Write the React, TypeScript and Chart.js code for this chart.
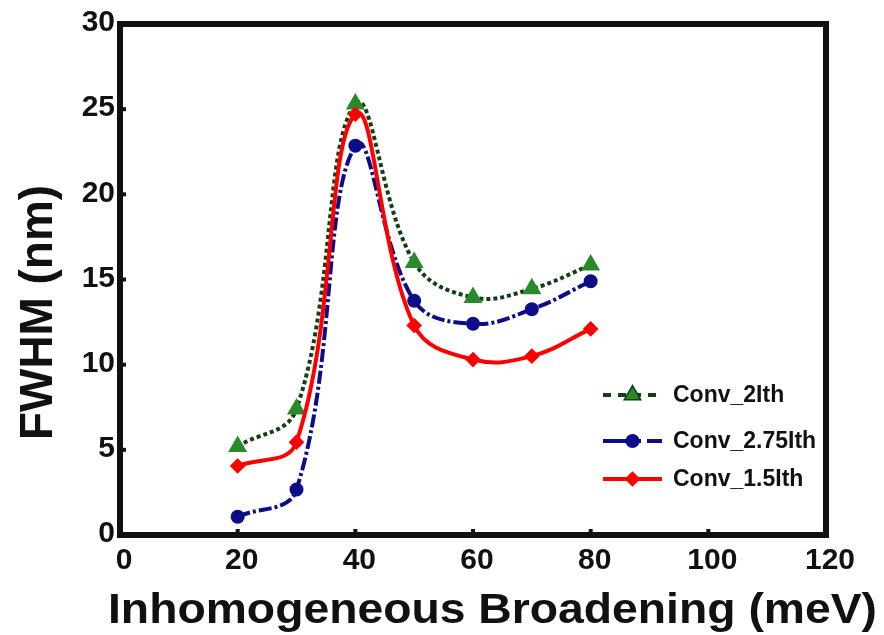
import React, { useEffect, useRef } from "react";
import { Chart, registerables } from "chart.js";
import { drawPoint } from "chart.js/helpers";

Chart.register(...registerables);

const xValues = [20, 30, 40, 50, 60, 70, 80];
const conv2Ith = [5.2, 7.4, 25.3, 16.0, 13.95, 14.45, 15.85];
const conv275Ith = [1.07, 2.67, 22.85, 13.75, 12.4, 13.25, 14.9];
const conv15Ith = [4.05, 5.45, 24.7, 12.3, 10.3, 10.5, 12.1];
const seriesLabels = ["Conv_2Ith", "Conv_2.75Ith", "Conv_1.5Ith"];
const xTitle = "Inhomogeneous Broadening (meV)";
const yTitle = "FWHM (nm)";

const FONT = "'Liberation Sans', Arial, Helvetica, sans-serif";
const INK = "#111111";

const legendDashes = [[8, 7], [26, 6, 6, 6], []];

const decorPlugin = {
  id: "decor",
  afterDraw(chart: any) {
    const { ctx, chartArea } = chart;
    const { left, right, top, bottom } = chartArea;
    const xs = chart.scales.x;
    const ys = chart.scales.y;
    ctx.save();
    // inward ticks
    ctx.strokeStyle = INK;
    ctx.lineWidth = 4;
    xs.ticks.forEach((_t: any, i: number) => {
      const px = xs.getPixelForTick(i);
      ctx.beginPath();
      ctx.moveTo(px, bottom);
      ctx.lineTo(px, bottom - 6);
      ctx.stroke();
    });
    ys.ticks.forEach((_t: any, i: number) => {
      const py = ys.getPixelForTick(i);
      ctx.beginPath();
      ctx.moveTo(left, py);
      ctx.lineTo(left + 6, py);
      ctx.stroke();
    });
    // frame
    ctx.lineWidth = 6;
    ctx.strokeRect(left, top, right - left, bottom - top);

    // axis titles
    ctx.fillStyle = INK;
    ctx.font = `bold 42px ${FONT}`;
    ctx.textAlign = "center";
    ctx.textBaseline = "alphabetic";
    let w = ctx.measureText(xTitle).width;
    ctx.save();
    ctx.translate(left + 372.5, bottom + 88);
    ctx.scale(769 / w, 1);
    ctx.fillText(xTitle, 0, 0);
    ctx.restore();

    ctx.font = `bold 47px ${FONT}`;
    w = ctx.measureText(yTitle).width;
    ctx.save();
    ctx.translate(left - 68, top + 288.5);
    ctx.rotate(-Math.PI / 2);
    ctx.scale(255 / w, 1);
    ctx.fillText(yTitle, 0, 0);
    ctx.restore();

    // legend
    const rowOffsets = [371, 417, 455];
    const lx0 = left + 483;
    const lx1 = left + 542;
    chart.data.datasets.forEach((ds: any, i: number) => {
      const cy = top + rowOffsets[i];
      ctx.save();
      ctx.strokeStyle = ds.borderColor;
      ctx.lineWidth = 4;
      ctx.setLineDash(legendDashes[i]);
      ctx.beginPath();
      ctx.moveTo(lx0, cy);
      ctx.lineTo(lx1, cy);
      ctx.stroke();
      ctx.setLineDash([]);
      drawPoint(
        ctx,
        {
          pointStyle: ds.pointStyle,
          radius: ds.pointRadius,
          rotation: 0,
          borderWidth: 1,
        } as any,
        (lx0 + lx1) / 2,
        cy
      );
      ctx.restore();
      ctx.save();
      ctx.fillStyle = ds.pointBackgroundColor;
      ctx.strokeStyle = ds.pointBorderColor;
      ctx.lineWidth = 1;
      drawPoint(
        ctx,
        { pointStyle: ds.pointStyle, radius: ds.pointRadius, rotation: 0, borderWidth: 1 } as any,
        (lx0 + lx1) / 2,
        cy
      );
      ctx.restore();
      ctx.fillStyle = INK;
      ctx.font = `bold 23px ${FONT}`;
      ctx.textAlign = "left";
      ctx.textBaseline = "middle";
      ctx.fillText(ds.label, left + 553, cy + 1);
    });
    ctx.restore();
  },
};

export default function App() {
  const ref = useRef<HTMLCanvasElement | null>(null);

  useEffect(() => {
    document.body.style.margin = "0";
    if (!ref.current) return;
    const mk = (vals: number[]) => vals.map((v, i) => ({ x: xValues[i], y: v }));
    const chart = new Chart(ref.current, {
      type: "line",
      data: {
        datasets: [
          {
            label: seriesLabels[0],
            data: mk(conv2Ith),
            borderColor: "#143f14",
            borderWidth: 4,
            borderDash: [4, 3],
            pointStyle: "triangle",
            pointRadius: 7,
            pointBackgroundColor: "#2a8a2a",
            pointBorderColor: "#2a8a2a",
            tension: 0.4,
            order: 2,
          },
          {
            label: seriesLabels[1],
            data: mk(conv275Ith),
            borderColor: "#0d0d8a",
            borderWidth: 4,
            borderDash: [13, 3, 3, 3],
            pointStyle: "circle",
            pointRadius: 5,
            pointBackgroundColor: "#0d0d8a",
            pointBorderColor: "#0d0d8a",
            tension: 0.4,
            order: 3,
          },
          {
            label: seriesLabels[2],
            data: mk(conv15Ith),
            borderColor: "#ff0000",
            borderWidth: 4,
            pointStyle: "rectRot",
            pointRadius: 5,
            pointBackgroundColor: "#ff0000",
            pointBorderColor: "#ff0000",
            tension: 0.4,
            order: 1,
          },
        ],
      },
      options: {
        responsive: false,
        animation: false,
        devicePixelRatio: 1,
        layout: { padding: { left: 0, top: 24, right: 58, bottom: 0 } },
        plugins: { legend: { display: false }, tooltip: { enabled: false } },
        scales: {
          x: {
            type: "linear",
            min: 0,
            max: 120,
            grid: { display: false, drawTicks: false },
            border: { display: false },
            ticks: {
              stepSize: 20,
              padding: 8,
              labelOffset: 4,
              color: INK,
              font: { family: FONT, size: 30, weight: "bold" },
            },
            afterFit: (s: any) => {
              s.height = 100;
            },
          },
          y: {
            type: "linear",
            min: 0,
            max: 30,
            grid: { display: false, drawTicks: false },
            border: { display: false },
            ticks: {
              stepSize: 5,
              padding: 5,
              labelOffset: -1,
              color: INK,
              font: { family: FONT, size: 30, weight: "bold" },
            },
            afterFit: (s: any) => {
              s.width = 120;
            },
          },
        },
      },
      plugins: [decorPlugin],
    });
    return () => chart.destroy();
  }, []);

  return (
    <div style={{ position: "fixed", left: 0, top: 0, width: 884, height: 635, background: "#fff" }}>
      <canvas ref={ref} width={884} height={635} />
    </div>
  );
}
